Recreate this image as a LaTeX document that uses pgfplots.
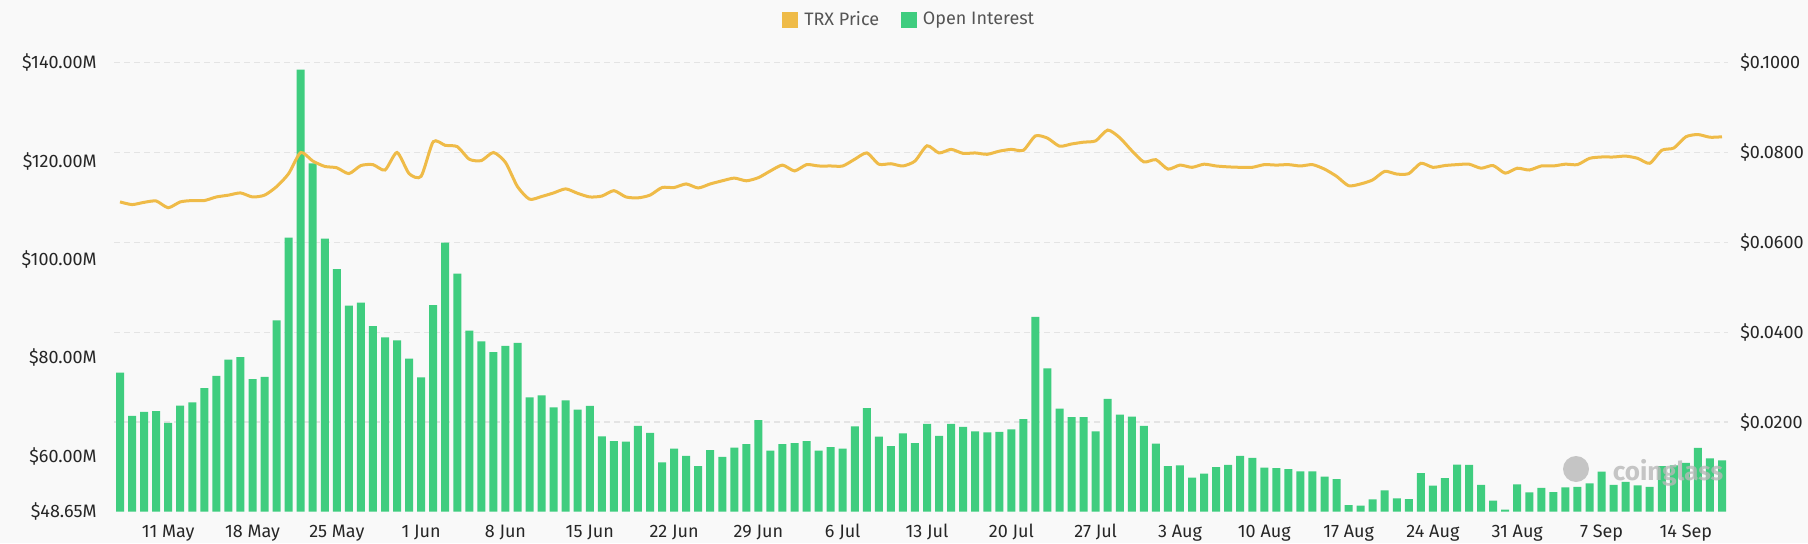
\documentclass[border=0pt]{standalone}
\usepackage{pgfplots}
\pgfplotsset{compat=1.18}
\usepackage{pgfplotstable}
\usepackage{fontspec}
\setmainfont{Fira Sans}

\definecolor{bgc}{HTML}{F9F9F9}
\definecolor{oigreen}{HTML}{3FCD7F}
\definecolor{trx}{HTML}{EFBB48}
\definecolor{gridc}{HTML}{E4E4E4}
\definecolor{lbl}{HTML}{262626}
\definecolor{leg}{HTML}{555555}

% i = day index from 7 May, oi = open interest (M USD), p = TRX price (USD)
\pgfplotstableread{
i oi p
0 76.95 .0690
1 68.15 .0684
2 68.96 .0689
3 69.1 .0692
4 66.7 .0677
5 70.25 .0690
6 70.9 .0693
7 73.8 .0693
8 76.3 .0701
9 79.6 .0705
10 80.1 .0710
11 75.6 .0701
12 76.1 .0705
13 87.6 .0724
14 104.4 .0753
15 138.6 .0800
16 119.5 .0781
17 104.2 .0769
18 98.0 .0766
19 90.6 .0753
20 91.2 .0771
21 86.4 .0773
22 84.1 .0761
23 83.5 .0800
24 79.8 .0753
25 76.0 .0747
26 90.7 .0824
27 103.4 .0816
28 97.1 .0813
29 85.5 .0785
30 83.3 .0782
31 81.1 .0800
32 82.4 .0778
33 83.0 .0724
34 71.9 .0696
35 72.3 .0702
36 69.9 .0710
37 71.3 .0719
38 69.4 .0709
39 70.2 .0701
40 64.0 .0703
41 63.0 .0715
42 62.9 .0701
43 66.1 .0699
44 64.7 .0705
45 58.7 .0722
46 61.5 .0722
47 60.0 .0730
48 57.9 .0721
49 61.2 .0730
50 59.8 .0737
51 61.7 .0743
52 62.4 .0737
53 67.3 .0744
54 61.1 .0759
55 62.4 .0772
56 62.6 .0759
57 63.0 .0773
58 61.1 .0770
59 61.8 .0770
60 61.5 .0770
61 66.0 .0785
62 69.7 .0799
63 63.95 .0774
64 62.0 .0775
65 64.6 .0770
66 62.6 .0781
67 66.5 .0815
68 64.1 .0799
69 66.5 .0807
70 65.9 .0798
71 65.0 .0799
72 64.8 .0796
73 64.9 .0803
74 65.4 .0807
75 67.5 .0805
76 88.3 .0837
77 77.8 .0832
78 69.6 .0814
79 67.9 .0819
80 67.9 .0823
81 65.0 .0826
82 71.6 .0850
83 68.4 .0833
84 68.0 .0804
85 66.1 .0779
86 62.5 .0784
87 57.9 .0763
88 58.1 .0772
89 55.6 .0767
90 56.4 .0774
91 57.7 .0770
92 58.2 .0768
93 60.0 .0767
94 59.6 .0767
95 57.6 .0773
96 57.5 .0772
97 57.3 .0773
98 56.85 .0770
99 56.85 .0773
100 55.8 .0763
101 55.3 .0747
102 50.0 .0726
103 49.9 .0730
104 51.15 .0739
105 53.0 .0758
106 51.35 .0752
107 51.2 .0753
108 56.5 .0776
109 53.95 .0767
110 55.5 .0771
111 58.25 .0773
112 58.2 .0774
113 54.1 .0765
114 50.9 .0771
115 49.05 .0754
116 54.2 .0765
117 52.6 .0761
118 53.5 .0770
119 52.65 .0770
120 53.6 .0774
121 53.7 .0773
122 54.4 .0787
123 56.8 .0790
124 54.1 .0790
125 54.7 .0792
126 54.0 .0787
127 53.7 .0776
128 57.9 .0805
129 58.1 .0810
130 58.6 .0835
131 61.65 .0840
132 59.5 .0834
133 59.1 .0835
}\trxdata

\begin{document}
\begin{tikzpicture}
\fill[bgc] (0,0) rectangle (904pt,271.5pt);
\pgfplotsset{
  base/.style={
    at={(57pt,15.65pt)}, anchor=south west,
    scale only axis, width=807pt, height=224.5pt,
    xmin=-0.5, xmax=133.5,
    axis line style={draw=none},
    major tick length=0pt,
    tick label style={font=\fontsize{9}{11}\selectfont, text=lbl, inner sep=0pt},
  },
  sqlegend/.style={legend image code/.code={\fill[##1] (0pt,-3.75pt) rectangle (7.5pt,3.75pt);}},
}
% grid, right axis labels and legend
\begin{axis}[base,
  ymin=0, ymax=0.1,
  xtick=\empty,
  ytick={0.02,0.04,0.06,0.08,0.1},
  yticklabels={\$0.0200,\$0.0400,\$0.0600,\$0.0800,\$0.1000},
  yticklabel pos=right,
  yticklabel style={anchor=base west, xshift=6pt, yshift=-3.1pt},
  ymajorgrids,
  grid style={gridc, dash pattern=on 3pt off 2pt, line width=0.6pt},
  legend columns=2,
  legend style={at={(0.494,1.095)}, anchor=center, draw=none, fill=none,
    font=\fontsize{9}{11}\selectfont, text=leg,
    nodes={inner xsep=3pt, inner ysep=2pt},
    /tikz/every even column/.append style={column sep=8pt}},
]
\addlegendimage{sqlegend, trx}
\addlegendentry{TRX Price}
\addlegendimage{sqlegend, oigreen}
\addlegendentry{Open Interest}
\end{axis}
% open interest bars, left axis
\begin{axis}[base,
  ymin=48.65, ymax=140,
  ytick={48.65,60,80,100,120,140},
  yticklabels={\$48.65M,\$60.00M,\$80.00M,\$100.00M,\$120.00M,\$140.00M},
  yticklabel style={anchor=base east, xshift=-8.5pt, yshift=-3.1pt},
  xtick={4,11,...,130},
  xticklabels={11 May,18 May,25 May,1 Jun,8 Jun,15 Jun,22 Jun,29 Jun,6 Jul,13 Jul,20 Jul,27 Jul,3 Aug,10 Aug,17 Aug,24 Aug,31 Aug,7 Sep,14 Sep},
  xticklabel style={anchor=base, yshift=-13.1pt},
]
\addplot[ybar, bar width=4pt, fill=oigreen, draw=none] table[x=i, y=oi] {\trxdata};
\end{axis}
% price line, right axis
\begin{axis}[base,
  ymin=0, ymax=0.1,
  xtick=\empty, ytick=\empty,
]
\addplot[trx, line width=1.5pt, smooth, tension=0.4, mark=none] table[x=i, y=p] {\trxdata};
\end{axis}
\node[text=black!28, opacity=0.8, font=\fontsize{13}{15}\selectfont\bfseries] at (834pt,35pt) {coinglass};
\fill[black!28, opacity=0.8] (788pt,37pt) circle (6.5pt);
\pgfresetboundingbox
\useasboundingbox (0,0) rectangle (904pt,271.5pt);
\end{tikzpicture}
\end{document}
